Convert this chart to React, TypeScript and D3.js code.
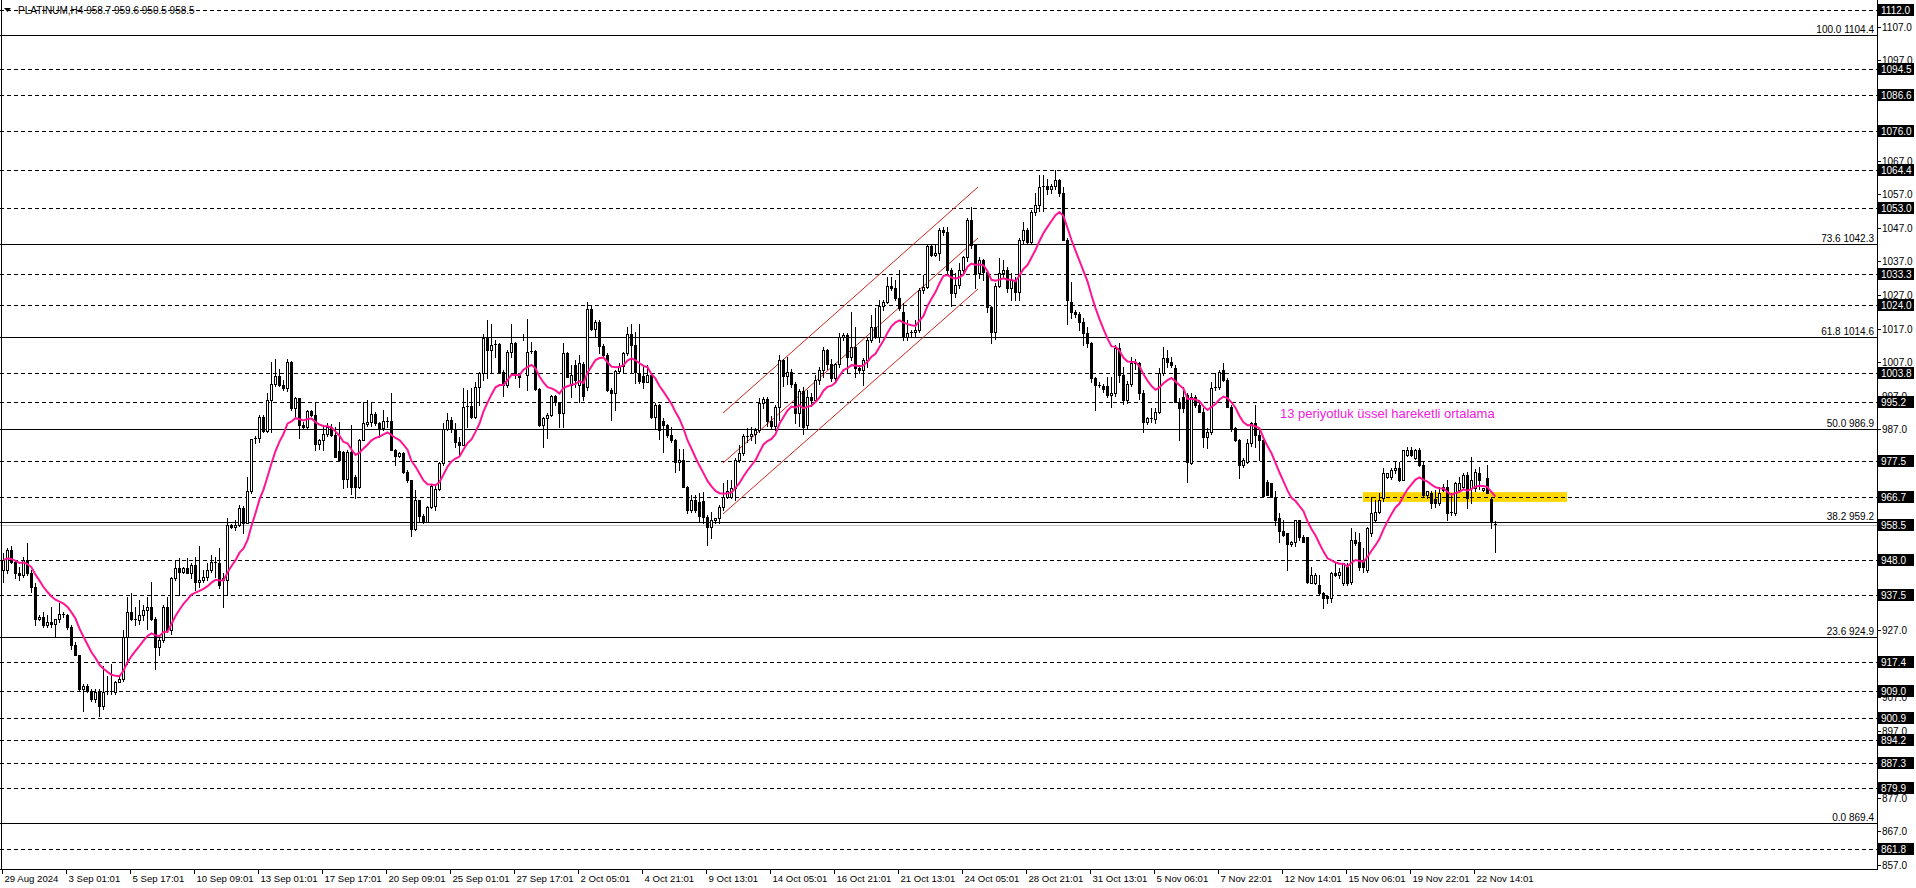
import React from "react";
import * as d3 from "d3";

// PLATINUM H4 candles (bar 0 = 29 Aug 2024)
const opens = [
  945, 945, 951, 947.5, 944, 943.5, 948, 944, 940, 930.5,
  931, 928.5, 929.5, 929, 930.5, 932, 931.5, 928, 922.5, 919.5,
  909.5, 910.5, 909, 906.5, 908.5, 904.5, 908.5, 909, 908.5, 911.5,
  912.5, 925, 932.5, 930.5, 930, 931.5, 933, 934, 930.5, 922,
  924, 934, 927, 942.5, 945.5, 944.5, 945.5, 944, 946.5, 941.5,
  942, 943, 945, 947.5, 947, 942.5, 942, 958.5, 957.8, 958.5,
  963.5, 959, 968.5, 984, 984.5, 990.7, 986.5, 995.7, 1000.5, 1002.8,
  1000.2, 999.2, 1007, 993.2, 996.2, 988.2, 987.5, 992.4, 991.2, 982.6,
  983.8, 985.5, 987.5, 985.2, 980.5, 980.3, 972, 980.3, 972.8, 969.8,
  983.8, 988.5, 989, 991.5, 988.7, 987.2, 989.5, 989.3, 980.8, 979,
  980, 974.3, 971.8, 957.1, 966, 961.1, 959.4, 963.7, 964, 969.1,
  976.8, 987, 989.7, 987, 983.3, 982.3, 993.7, 993.9, 990.7, 999.7,
  1003.6, 1014.1, 1010.6, 1012, 1012.3, 1004.1, 1000.2, 1010.1, 1012.8, 1003.1,
  1014.6, 1003.1, 1010.1, 1010.3, 998.9, 988.2, 990.2, 991.2, 996.9, 995,
  991.7, 1009.8, 1000.2, 1006, 1000.2, 1006.4, 999.7, 1022.7, 1017, 1019,
  1011.8, 1009.1, 998.7, 997.7, 1004.4, 1005.8, 1009.6, 1015.5, 1012.1, 1003.6,
  1002.8, 1001.1, 1003.1, 990.7, 994.2, 989.4, 988.2, 985.2, 983.8, 977.3,
  977.8, 969.8, 962.9, 965.9, 965.3, 965.6, 960.9, 957.7, 959.9, 960.5,
  963.9, 966.9, 966.9, 969.3, 977.8, 980, 984.9, 985, 985.6, 986.7,
  994.7, 996, 989.5, 988, 993.7, 1007.6, 1002.8, 1004.1, 1000.6, 991.7,
  998.5, 988.2, 996.7, 995.7, 1001.7, 1004.6, 1010.5, 1006.5, 1002.1, 1006.4,
  1014.6, 1015.1, 1008.6, 1011.6, 1005.1, 1004.6, 1007.6, 1013.6, 1017.6, 1014.6,
  1023.7, 1025, 1029.7, 1029.2, 1026, 1022, 1014.6, 1015.6, 1016.1, 1016.6,
  1028.5, 1029.5, 1041.6, 1038.9, 1039.5, 1046.4, 1045.9, 1034.5, 1027.7, 1030,
  1034.6, 1038.2, 1049.4, 1041.9, 1033.5, 1037.4, 1034, 1023.5, 1016.1, 1029.7,
  1033.5, 1034.6, 1029, 1031.5, 1028, 1043.4, 1046.4, 1042.9, 1051.9, 1053.8,
  1059.3, 1059.5, 1058.5, 1059.5, 1061.3, 1057.3, 1043.4, 1025, 1022, 1021.3,
  1019, 1015.6, 1012.6, 1002.1, 1000.2, 999.9, 999.9, 997.2, 997.7, 1011.1,
  1003, 995.7, 1000.5, 1006.6, 1006.8, 997.7, 989.2, 990.2, 990, 992.2,
  1003.6, 1008.1, 1007.1, 1005.1, 995.2, 996.7, 997.2, 977, 996.7, 994.2,
  992.2, 984.7, 986.2, 999.2, 999.7, 1004.6, 1001.7, 993.7, 987.2, 983.8,
  976.3, 977.3, 982.8, 988.7, 985.2, 983.8, 971.3, 970.8, 966.4, 960.4,
  956.7, 955.9, 952.7, 953.2, 959.9, 954.9, 954.9, 941.2, 941, 940.5,
  938, 937.2, 936.5, 944, 943.5, 941, 946, 941.5, 953.9, 953.4,
  948, 945, 955.9, 959.9, 962.4, 966.4, 972.8, 972.8, 974.8, 975.3,
  971.8, 979.3, 980.8, 978.3, 980.8, 976.3, 967.4, 967.9, 966.1, 964.9,
  969.8, 969.8, 961.9, 961.9, 968.9, 969.8, 973.3, 969.4, 969.4, 973.8,
  968.9, 972.3, 966.1, 958.7,
];

const highs = [
  950, 951.5, 952, 948, 946, 949, 953, 945, 941, 931.5,
  932.5, 931.5, 934, 930.5, 935, 932.5, 932, 928.5, 923.5, 919.5,
  911, 911, 909.5, 909.5, 909.5, 916.5, 913.5, 917, 912, 913.5,
  927, 937, 938, 934, 936, 934.5, 937, 941.5, 931, 925,
  934.5, 937, 943, 948, 948.5, 946, 948.5, 947, 949, 952,
  945, 947, 949.5, 949, 951.5, 944, 960.5, 958.8, 960, 964.5,
  964, 972.8, 984.2, 985, 991.2, 991.2, 997.7, 1007, 1008, 1005,
  1001.8, 1007.8, 1007.4, 996.7, 996.2, 989.2, 992.7, 992.7, 995.2, 984.2,
  988.2, 988.7, 988.5, 987.7, 989.2, 980.5, 980.8, 988.2, 973.3, 984.2,
  995.2, 995.7, 994.7, 992.2, 989, 992.7, 990.7, 997.7, 981, 980.3,
  980.3, 974.8, 971.8, 968.8, 966, 961.7, 964, 970.3, 970, 977.3,
  988.7, 991.7, 990.7, 988.7, 984.7, 999.2, 998.7, 999.2, 1001.2, 1004.1,
  1015.5, 1019.5, 1018.5, 1013.6, 1012.6, 1004.6, 1010.6, 1018.5, 1013.1, 1003.6,
  1015.5, 1019.7, 1013.1, 1010.5, 999.2, 990.7, 991.7, 997.2, 997.2, 995.2,
  1012.6, 1010.1, 1006.1, 1007.6, 1009.1, 1007.1, 1025, 1024, 1019.5, 1019.5,
  1012.4, 1009.6, 999.2, 1004.6, 1006.6, 1010.1, 1017.5, 1018.5, 1016, 1018.5,
  1006.1, 1006.1, 1003.1, 994.7, 994.4, 990.2, 988.5, 987.7, 984.2, 981.2,
  981.2, 970, 967.4, 967.4, 967.9, 968.3, 961.4, 962.4, 960.6, 964.4,
  970.8, 971.8, 971.8, 978.3, 982.3, 985.5, 987.2, 987.7, 987.2, 996.2,
  996.5, 996.5, 991, 994.2, 1009.1, 1007.8, 1008.6, 1005, 1001, 999,
  999.5, 998.7, 997.7, 1003.1, 1005.6, 1011.6, 1011, 1008, 1006.8, 1015.6,
  1015.8, 1015.6, 1022, 1017.6, 1006, 1008.1, 1014.1, 1021, 1023, 1025.5,
  1025.5, 1032.5, 1032.3, 1031.5, 1034.5, 1024.5, 1019.5, 1016.5, 1019.5, 1029,
  1033, 1042, 1042, 1042, 1046.9, 1047.4, 1047.4, 1035, 1033.5, 1036.4,
  1038.5, 1049.9, 1053.3, 1042.1, 1038.4, 1037.6, 1034.3, 1023.7, 1030.5, 1037.9,
  1037.4, 1035.4, 1033.5, 1032.5, 1043.9, 1048.9, 1046.9, 1052.4, 1057.3, 1062.8,
  1062.8, 1061.5, 1060, 1064.3, 1061.7, 1059.3, 1043.9, 1031, 1022.5, 1022,
  1020, 1017.5, 1013, 1002.6, 1001, 1000.5, 1002.6, 1002.6, 1012.1, 1012.6,
  1005.6, 1001.5, 1008.6, 1007.8, 1007, 998.7, 990.7, 993.2, 993.2, 1005.1,
  1011.6, 1010.6, 1008.5, 1006, 996.2, 999.7, 997.7, 997.7, 997.2, 995.7,
  993.2, 987.2, 1001.2, 1003.6, 1004.6, 1006.8, 1002.2, 994.2, 987.7, 984.2,
  978.5, 984.2, 989.2, 994.2, 986.7, 983.8, 971.8, 971, 968.4, 961.9,
  959.9, 956, 953.5, 959.9, 959.9, 955.5, 954.9, 946, 944, 943.5,
  938.5, 937.6, 944.5, 947, 945.5, 947, 947, 957.4, 956.4, 956,
  951.5, 957.9, 966.9, 965.9, 967.9, 975.3, 974, 975.3, 977.3, 977.3,
  980.8, 981.8, 981.8, 981, 981.3, 977.3, 968.5, 968.4, 968.9, 969.8,
  970.5, 971.8, 967.9, 971.3, 972.8, 973.8, 974.3, 978.8, 975, 975.8,
  969.5, 976.3, 966.9, 959.6,
];

const lows = [
  941.5, 944, 947, 942.5, 942, 943, 943.5, 938.5, 928.5, 930,
  928, 928, 928, 925, 929.5, 931, 927.5, 921.5, 919.5, 909,
  903, 908.5, 906, 905.5, 901.5, 903.5, 908, 908, 908, 911.5,
  912, 917, 930, 928.5, 929, 930, 927.5, 930, 915.5, 919.5,
  923.5, 926.5, 926, 942, 937.5, 944, 944, 942.5, 939, 940,
  941.5, 942, 944.5, 943, 939.5, 934, 937.5, 957.5, 957, 958,
  956, 959, 968, 982.8, 983.2, 986.2, 986.2, 986.2, 1000, 1000,
  998.8, 998.5, 992.7, 990.7, 984.5, 987.2, 987.2, 990.9, 980.8, 981,
  980.8, 985, 985, 978.8, 977.8, 969.4, 969.8, 967.8, 966.4, 969.4,
  983.8, 988, 988, 988.2, 984.7, 986.7, 987.7, 980.8, 976.3, 978.8,
  974, 971.3, 955.1, 956.9, 959.4, 959.1, 959.4, 963.4, 962.9, 968.8,
  976.3, 986.8, 986.2, 981.8, 979.3, 982.3, 987.7, 990.2, 990.2, 994.2,
  1001.7, 1002.2, 1003.6, 1008.6, 1003.6, 996.9, 999.7, 1008.6, 1002.2, 999.7,
  1013.6, 998.7, 1009.6, 998.7, 987.9, 981.6, 984.5, 990.9, 994.2, 987.7,
  987.7, 1002.4, 996.7, 999.7, 995.2, 995.7, 998.7, 1016.5, 1014.6, 1009.6,
  1008.6, 998.5, 989.7, 992.7, 1004.1, 1003.6, 1009.1, 1003.6, 1000.7, 1000.7,
  999.2, 1001.1, 990.2, 987.2, 984.2, 980.3, 984.7, 983.3, 974.3, 974.8,
  969.6, 962.1, 962.4, 962.4, 959.4, 958.9, 952.5, 954.4, 959, 958.9,
  962.9, 966.4, 966.4, 965.9, 977.3, 979.3, 983.3, 983.8, 982.8, 986.2,
  993.2, 988, 987, 986.8, 989.7, 1000, 1000.5, 999.5, 988.7, 988,
  985.5, 987, 994, 995, 1000.5, 1002.6, 1005, 1001.5, 1001, 1005.5,
  1013.5, 1003.6, 1007.5, 1002.6, 1003.8, 1000.2, 1005.6, 1013.1, 1014.1, 1013,
  1022.5, 1024.5, 1028.5, 1025.5, 1022.5, 1013.6, 1013.6, 1014.8, 1014.6, 1016,
  1027.5, 1029, 1038.5, 1038.5, 1037.5, 1045, 1033.5, 1023.8, 1026.5, 1029,
  1033.5, 1037, 1041, 1029, 1032, 1031.5, 1022, 1012.6, 1014, 1029.5,
  1032.5, 1028, 1025.5, 1025.5, 1025.5, 1042.5, 1042.4, 1042.4, 1051, 1052,
  1052, 1057, 1057.5, 1058.5, 1056.5, 1043.4, 1018.5, 1020, 1020.5, 1016.5,
  1012, 1011.5, 1001, 992.7, 999.5, 998, 996.5, 993.7, 997, 1001,
  994.5, 994.8, 1000, 1005, 996, 986.2, 988.5, 989, 988.7, 991.8,
  1003, 1005.6, 1005.6, 995, 983.8, 992, 971.3, 976.5, 993.5, 992,
  981.8, 981.3, 985.5, 998.7, 999, 1001.5, 993.5, 986.5, 983.5, 972.3,
  975.8, 976.8, 982, 981.8, 977.8, 966.9, 967.4, 966.9, 958.4, 953.4,
  955, 945, 952, 952, 954, 953.4, 941.2, 941, 940.8, 937.5,
  933.6, 935, 935.5, 943.2, 942.5, 940.5, 940.5, 940.8, 952.5, 945,
  944.3, 944.5, 955, 959.5, 962, 965.5, 972.5, 972, 974, 971.5,
  971.8, 979, 979, 978, 976, 966.9, 966.5, 963.5, 963.9, 964.5,
  968.5, 959.9, 961.5, 961.5, 968.5, 969, 963.4, 965, 968.5, 969,
  968.5, 967.9, 957.4, 950.5,
];

const closes = [
  948, 951, 947.5, 944, 943.5, 948, 944, 940, 930.5, 931,
  928.5, 929.5, 929, 930.5, 932, 931.5, 928, 922.5, 919.5, 909.5,
  910.5, 909, 906.5, 908.5, 904.5, 908.5, 909, 908.5, 911.5, 912.5,
  925, 932.5, 930.5, 930, 931.5, 933, 934, 930.5, 922, 924,
  934, 927, 942.5, 945.5, 944.5, 945.5, 944, 946.5, 941.5, 942,
  943, 945, 947.5, 947, 940.5, 942, 958.5, 957.8, 958.5, 963.5,
  959, 968.5, 984, 984.5, 990.7, 986.5, 995.7, 1000.5, 1002.8, 1000.2,
  999.2, 1007, 993.2, 996.2, 988.2, 987.5, 992.4, 991.2, 982.6, 983.8,
  985.5, 987.5, 985.2, 978.8, 977.8, 972, 980.3, 969.8, 969.8, 983.8,
  988.7, 989, 991.5, 988.7, 987.2, 989.5, 989.3, 980.8, 979, 980,
  974.3, 971.8, 957.1, 966, 961.1, 959.4, 963.7, 970, 969.1, 976.8,
  987, 989.7, 987, 983.3, 982.3, 993.7, 993.9, 990.7, 999.7, 1003.6,
  1014.1, 1010.6, 1012, 1012.3, 1004.1, 1000.2, 1010.1, 1012.8, 1003.1, 1002.6,
  1014.4, 1010.1, 1010.3, 998.9, 988.2, 990.2, 991.2, 996.9, 995, 991.7,
  1009.8, 1002.6, 1003.1, 1001.6, 1006.6, 996.9, 1022.7, 1017, 1019, 1011.8,
  1009.1, 998.7, 997.7, 1004.4, 1005.8, 1009.6, 1015.5, 1012.1, 1004.1, 1001.4,
  1001.1, 1003.1, 990.7, 994.2, 986.7, 988.2, 985.2, 983.8, 977.3, 977.8,
  969.8, 962.9, 965.9, 962.9, 961.1, 960.9, 957.7, 959.9, 960.5, 963.9,
  966.9, 968.4, 969.3, 977.8, 980, 984.9, 985, 985.6, 986.7, 994.7,
  996, 989.5, 988, 993.7, 1007.6, 1002.8, 1004.1, 1000.6, 991.7, 998.5,
  987.5, 996.7, 995.7, 1001.7, 1004.6, 1010.5, 1006.5, 1002.1, 1006.4, 1014.6,
  1015.1, 1008.6, 1011.6, 1005.1, 1004.6, 1007.6, 1013.6, 1017.6, 1014.6, 1023.7,
  1025, 1029.7, 1029.2, 1026, 1023, 1014.6, 1015.6, 1016.1, 1016.6, 1028.5,
  1029.5, 1041.6, 1038.9, 1039.5, 1046.4, 1045.9, 1034.5, 1027.7, 1030, 1034.6,
  1038.2, 1049.4, 1041.9, 1033.5, 1037.4, 1034, 1023.5, 1016.1, 1029.7, 1033.5,
  1034.6, 1029, 1031.5, 1028, 1043.4, 1046.4, 1042.9, 1051.9, 1053.8, 1059.3,
  1059.5, 1058.5, 1059.5, 1061.3, 1057.3, 1043.4, 1025.5, 1022, 1021.3, 1019,
  1015.6, 1012.6, 1002.1, 1000.2, 999.9, 998.9, 997.2, 997.7, 1011.1, 1003,
  995.7, 1000.5, 1006.6, 1006.8, 997.7, 989.2, 990.2, 990, 992.2, 1003.6,
  1008.1, 1007.1, 1006.1, 995.2, 993.2, 993.2, 977.3, 996.7, 994.2, 992.2,
  984.7, 986.2, 999.2, 999.7, 1004.1, 1001.7, 993.7, 987.2, 983.8, 976.3,
  977.8, 982.8, 988.7, 985.2, 983.8, 967.1, 967.4, 966.9, 959.9, 956.7,
  955.4, 952.7, 953.2, 959.9, 954.9, 953.4, 941.5, 943.5, 943.5, 938,
  936.5, 936.5, 944, 943.5, 944.5, 947, 941, 953.9, 952.9, 946,
  946, 957.4, 961.9, 962.4, 965.9, 973.8, 973.8, 974.8, 975.3, 971.8,
  980.8, 980.8, 979.3, 980.8, 976.3, 967.4, 968.4, 964.9, 964.9, 967.9,
  968.9, 961.9, 962.4, 970.8, 970.8, 973.3, 966.4, 971.8, 974.3, 971.8,
  969.4, 967.9, 959.4, 958.5,
];

const timeLabels = [
  "29 Aug 2024", "3 Sep 01:01", "5 Sep 17:01", "10 Sep 09:01", "13 Sep 01:01",
  "17 Sep 17:01", "20 Sep 09:01", "25 Sep 01:01", "27 Sep 17:01", "2 Oct 05:01",
  "4 Oct 21:01", "9 Oct 13:01", "14 Oct 05:01", "16 Oct 21:01", "21 Oct 13:01",
  "24 Oct 05:01", "28 Oct 21:01", "31 Oct 13:01", "5 Nov 06:01", "7 Nov 22:01",
  "12 Nov 14:01", "15 Nov 06:01", "19 Nov 22:01", "22 Nov 14:01",
];
const barsPerLabel = 16;

// horizontal support / resistance levels (dashed)
const dashedLevels = [
  1112.0, 1094.5, 1086.6, 1076.0, 1064.4, 1053.0, 1033.3, 1024.0, 1003.8, 995.2,
  977.5, 966.7, 948.0, 937.5, 917.4, 909.0, 900.9, 894.2, 887.3, 879.9, 861.8,
];
// fibonacci retracement
const fibRatios = [100.0, 73.6, 61.8, 50.0, 38.2, 23.6, 0.0];
const fibPrices = [1104.4, 1042.3, 1014.6, 986.9, 959.2, 924.9, 869.4];

const lastPrice = 958.5;
const header = "PLATINUM,H4  958.7 959.6 950.5 958.5";
const emaPeriod = 13;
const emaNote = "13 periyotluk üssel hareketli ortalama";
const noteBar = 319.25;
const notePrice = 990.2;

// trend channel: [bar, price] at both ends
const channelBars = [180, 243.75];
const channelTop = [991.8, 1059.2];
const channelMid = [976.9, 1044.0];
const channelLow = [961.7, 1028.8];

// yellow zone
const zoneBars = [340, 391];
const zonePrices = [968.2, 965.3];

const W = 1916;
const H = 888;
const plotRight = 1877;
const plotBottom = 869;
const font = "Arial, 'Liberation Sans', sans-serif";

const App = () => {
  const x = d3.scaleLinear().domain([0, 373]).range([3, 3 + 4 * 373]);
  const y = d3.scaleLinear().domain([1112, 857]).range([10, 10 + 255 * 3.353]);
  const cy = (p) => Math.round(y(p)) + 0.5;

  const ema = [];
  closes.forEach((c, i) => {
    ema.push(i === 0 ? c : ema[i - 1] + (c - ema[i - 1]) * 2 / (emaPeriod + 1));
  });
  const emaLine = d3.line()
    .x((d, i) => x(i) + 0.5)
    .y((d) => y(d));

  const boxLevels = dashedLevels.concat([lastPrice]);
  // tick labels fully hidden behind a level box are not drawn
  const priceTicks = d3.range(857, 1110, 10)
    .filter((p) => !boxLevels.some((b) => Math.abs(y(p) - y(b)) < 6));
  const channels = [channelTop, channelMid, channelLow];

  return (
    <svg width={W} height={H} style={{ position: "absolute", left: 0, top: 0, background: "#fff" }}
      fontFamily={font}>
      <rect x={0} y={0} width={W} height={H} fill="#fff" />

      {/* zone */}
      <rect x={x(zoneBars[0])} y={y(zonePrices[0])} width={x(zoneBars[1]) - x(zoneBars[0])}
        height={y(zonePrices[1]) - y(zonePrices[0])} fill="#FFD700" />

      {/* levels */}
      {dashedLevels.map((p) => (
        <line key={"d" + p} x1={0} x2={plotRight} y1={cy(p)} y2={cy(p)}
          stroke="#000" strokeDasharray="4 3" />
      ))}
      <line x1={0} x2={plotRight} y1={cy(lastPrice)} y2={cy(lastPrice)} stroke="#c0c0c0" />
      {fibPrices.map((p, i) => (
        <g key={"f" + p}>
          <line x1={0} x2={plotRight} y1={cy(p)} y2={cy(p)} stroke="#000" />
          <text x={plotRight - 3} y={cy(p) - 3} textAnchor="end" fontSize={10} fill="#000">
            {fibRatios[i].toFixed(1) + " " + p.toFixed(1)}
          </text>
        </g>
      ))}

      {/* channel */}
      {channels.map((c, i) => (
        <line key={"c" + i} x1={x(channelBars[0])} y1={y(c[0])} x2={x(channelBars[1])} y2={y(c[1])}
          stroke="#c8281e" strokeWidth={1} />
      ))}

      {/* candles */}
      {closes.map((c, i) => {
        const o = opens[i];
        const px = Math.round(x(i));
        const yH = Math.round(y(highs[i]));
        const yL = Math.round(y(lows[i]));
        const yO = Math.round(y(o));
        const yC = Math.round(y(c));
        const top = Math.min(yO, yC);
        const bot = Math.max(yO, yC);
        let body;
        if (bot - top < 2) {
          body = <line x1={px - 1} x2={px + 2} y1={top + 0.5} y2={top + 0.5} stroke="#000" />;
        } else if (c >= o) {
          body = <rect x={px - 0.5} y={top + 0.5} width={2} height={bot - top} fill="#fff" stroke="#000" />;
        } else {
          body = <rect x={px - 1} y={top} width={3} height={bot - top + 1} fill="#000" />;
        }
        return (
          <g key={"k" + i}>
            <line x1={px + 0.5} x2={px + 0.5} y1={yH} y2={yL + 1} stroke="#000" />
            {body}
          </g>
        );
      })}

      {/* EMA 13 */}
      <path d={emaLine(ema)} fill="none" stroke="#FF1493" strokeWidth={2} />
      <text x={x(noteBar)} y={y(notePrice)} fontSize={13} fill="#F020E0">{emaNote}</text>

      {/* header */}
      <path d="M4,8 L11,8 L7.5,12 Z" fill="#000" />
      <text x={18} y={14} fontSize={10} fill="#000">{header}</text>

      {/* frame */}
      <line x1={1.5} x2={1.5} y1={0} y2={plotBottom} stroke="#000" />
      <line x1={0} x2={plotRight + 1} y1={plotBottom + 0.5} y2={plotBottom + 0.5} stroke="#000" />
      <line x1={plotRight + 0.5} x2={plotRight + 0.5} y1={0} y2={plotBottom + 1} stroke="#000" />

      {/* time axis */}
      {timeLabels.map((t, k) => {
        const tx = Math.round(x(k * barsPerLabel)) - 0.5;
        return (
          <g key={"t" + k}>
            <line x1={tx} x2={tx} y1={plotBottom} y2={plotBottom + 5} stroke="#000" />
            <text x={tx + 2} y={plotBottom + 13} fontSize={9.6} fill="#000">{t}</text>
          </g>
        );
      })}

      {/* price axis */}
      {priceTicks.map((p) => (
        <g key={"p" + p}>
          <line x1={plotRight} x2={plotRight + 4} y1={cy(p)} y2={cy(p)} stroke="#000" />
          <text x={plotRight + 5} y={cy(p) + 3.5} fontSize={10} fill="#000">{p.toFixed(1)}</text>
        </g>
      ))}
      {boxLevels.map((p) => (
        <g key={"b" + p}>
          <rect x={plotRight + 1} y={Math.round(y(p)) - 6} width={36} height={12} fill="#000" />
          <text x={plotRight + 4} y={Math.round(y(p)) + 4} fontSize={10} fill="#fff">{p.toFixed(1)}</text>
        </g>
      ))}
    </svg>
  );
};

export default App;
